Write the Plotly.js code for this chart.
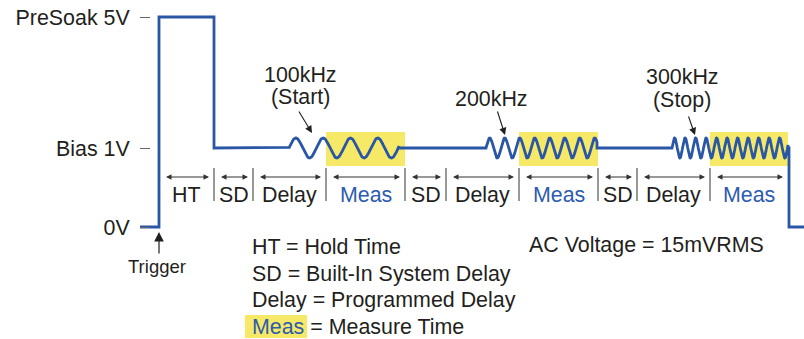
<!DOCTYPE html>
<html><head><meta charset="utf-8">
<script src="https://cdn.plot.ly/plotly-3.0.1.min.js"></script>
<style>html,body{margin:0;padding:0;background:#fff;} #chart{width:804px;height:339px;}</style>
</head><body><div id="chart"></div>
<script>
// ---------------- data ----------------
const levelNames = ['0V', 'Bias 1V', 'PreSoak 5V'];
const levelVolts = [0, 1, 5];
const phaseNames = ['HT', 'SD', 'Delay', 'Meas', 'SD', 'Delay', 'Meas', 'SD', 'Delay', 'Meas'];
const phaseStart = [159, 214, 253, 326, 405, 446, 519, 598, 637, 710];
const phaseEnd   = [214, 253, 326, 405, 446, 519, 598, 637, 710, 788];
const sweepFreqs = ['100kHz', '200kHz', '300kHz'];
const sweepNotes = ['(Start)', '', '(Stop)'];
const waveStart  = [289, 486, 672];
const waveEnd    = [399, 597, 788];
const wavePeriod = [27.3, 15, 10.5];
const idleStart = 140, triggerTime = 159, presoakEnd = 214, sweepEnd = 789, idleEnd = 804;
const legendKeys = ['HT', 'SD', 'Delay', 'Meas'];
const legendDefs = ['Hold Time', 'Built-In System Delay', 'Programmed Delay', 'Measure Time'];
const acNote = 'AC Voltage = 15mVRMS';

// ---------------- styling / layout helpers ----------------
const FONT = 'Liberation Sans, Arial, Helvetica, sans-serif';
const FS = 21.4;
const TXT = '#231f20';
const BLUE = '#2a56a6';
const MEASBLUE = '#2b5cae';
const YEL = '#f6e968';
const levelDisplay = [0, 1, 2.658];        // schematic (non-linear) display of the voltage levels
const V = v => levelDisplay[levelVolts.indexOf(v)];
const U = px => (227 - px) / 79;            // layout position -> y units
const PY = px => 1 - px / 339;              // layout position -> paper y
const PX = px => px / 804;
const amp = 10 / 79;

// ---------------- waveform ----------------
const xs = [idleStart, triggerTime, triggerTime, presoakEnd, presoakEnd];
const ys = [V(0), V(0), V(5), V(5), V(1)];
for (let i = 0; i < waveStart.length; i++) {
  xs.push(waveStart[i]); ys.push(V(1));
  for (let t = waveStart[i]; t <= waveEnd[i]; t += 0.25) {
    xs.push(t); ys.push(V(1) + amp * Math.sin(2 * Math.PI * (t - waveStart[i]) / wavePeriod[i]));
  }
  xs.push(waveEnd[i]); ys.push(V(1));
}
xs.push(sweepEnd, sweepEnd, idleEnd); ys.push(V(1), V(0), V(0));

const trace = {
  x: xs, y: ys, type: 'scatter', mode: 'lines',
  line: {color: BLUE, width: 2.8, shape: 'linear'}, hoverinfo: 'skip'
};

// ---------------- shapes ----------------
const shapes = [];
phaseNames.forEach((n, i) => {
  if (n === 'Meas') shapes.push({type: 'rect', xref: 'x', yref: 'y', x0: phaseStart[i], x1: phaseEnd[i],
    y0: U(166), y1: U(132), fillcolor: YEL, line: {width: 0}, layer: 'below'});
  if (i > 0) shapes.push({type: 'line', xref: 'x', yref: 'y', x0: phaseStart[i], x1: phaseStart[i],
    y0: U(168), y1: U(201), line: {color: '#333', width: 1}});
});
shapes.push({type: 'rect', xref: 'paper', yref: 'paper', x0: PX(245), x1: PX(307), y0: PY(338), y1: PY(315),
  fillcolor: YEL, line: {width: 0}, layer: 'below'});

// ---------------- annotations ----------------
const ann = [];
const txt = (o) => Object.assign({showarrow: false, yanchor: 'middle', xanchor: 'center',
  font: {family: FONT, size: FS, color: TXT}}, o);
phaseNames.forEach((n, i) => {
  ann.push(txt({x: (phaseStart[i] + phaseEnd[i]) / 2, y: U(195), xref: 'x', yref: 'y', text: n,
    font: {family: FONT, size: FS, color: n === 'Meas' ? MEASBLUE : TXT}}));
  ann.push({x: phaseEnd[i] - 5, y: U(177), ax: phaseStart[i] + 5.5, ay: U(177), xref: 'x', yref: 'y',
    axref: 'x', ayref: 'y', text: '', showarrow: true, arrowside: 'end+start', arrowhead: 2, startarrowhead: 2,
    arrowsize: 1.1, startarrowsize: 1.1, arrowwidth: 1, arrowcolor: '#333'});
});
const freqPos = [[300, 75, 97, 298, 110, 312, 133], [491, 99, 0, 497, 110, 505, 135], [682, 77, 100, 688, 115, 695, 135]];
sweepFreqs.forEach((f, i) => {
  const p = freqPos[i];
  ann.push(txt({x: p[0], y: PY(p[1]), xref: 'x', yref: 'paper', text: f}));
  if (sweepNotes[i]) ann.push(txt({x: p[0], y: PY(p[2]), xref: 'x', yref: 'paper', text: sweepNotes[i]}));
  ann.push({x: p[5], y: PY(p[6]), xref: 'x', yref: 'paper', ax: p[3] - p[5], ay: p[4] - p[6], text: '',
    xanchor: 'center', yanchor: 'middle',
    showarrow: true, arrowhead: 2, arrowsize: 1.3, arrowwidth: 1.1, arrowcolor: TXT});
});
// trigger
ann.push({x: triggerTime, y: PY(232), xref: 'x', yref: 'paper', ax: 0, ay: 23, text: '', showarrow: true,
  xanchor: 'center', yanchor: 'middle', arrowhead: 2, arrowsize: 1.6, arrowwidth: 1.2, arrowcolor: TXT});
ann.push(txt({x: 157, y: PY(266), xref: 'x', yref: 'paper', text: 'Trigger',
  font: {family: FONT, size: 18.5, color: TXT}}));
// legend text
legendKeys.forEach((k, i) => {
  const key = k === 'Meas' ? '<span style="color:' + MEASBLUE + '">' + k + '</span>' : k;
  ann.push(txt({x: PX(250), y: PY(247 + i * 26.5), xref: 'paper', yref: 'paper', xanchor: 'left',
    text: key + ' = ' + legendDefs[i]}));
});
ann.push(txt({x: PX(527), y: PY(245), xref: 'paper', yref: 'paper', xanchor: 'left', text: acNote}));

const layout = {
  width: 804, height: 339, margin: {l: 0, r: 0, t: 0, b: 0},
  paper_bgcolor: '#fff', plot_bgcolor: '#fff', showlegend: false,
  xaxis: {range: [0, 804], visible: false, fixedrange: true},
  yaxis: {range: [U(339), U(0)], anchor: 'free', position: PX(150), showgrid: false, zeroline: false,
    showline: false, tickvals: levelVolts.map(V), ticktext: levelNames, ticks: 'outside', ticklen: 10,
    tickwidth: 1, tickcolor: '#666', ticklabelstandoff: 6,
    tickfont: {family: FONT, size: FS, color: TXT}, fixedrange: true},
  shapes: shapes, annotations: ann
};
Plotly.newPlot('chart', [trace], layout, {displayModeBar: false, staticPlot: true});
</script></body></html>
